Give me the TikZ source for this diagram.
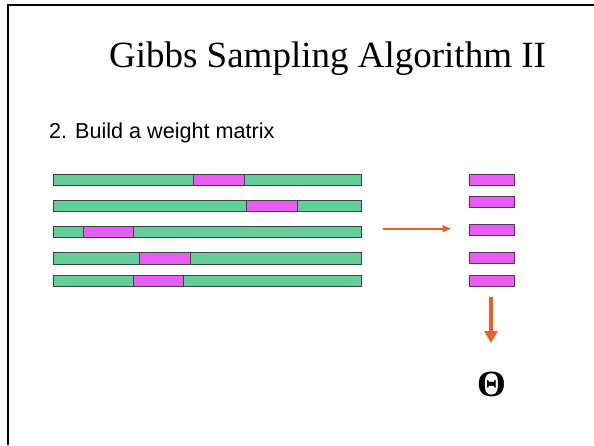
\documentclass[tikz,border=0pt]{standalone}
\usepackage{fontspec}
\usetikzlibrary{arrows.meta}
\setmainfont{Liberation Serif}
\newfontfamily\arialfont{Liberation Sans}
\definecolor{bargreen}{RGB}{100,205,152}
\definecolor{barmag}{RGB}{233,92,245}
\definecolor{arroworange}{RGB}{236,96,40}
\definecolor{bargray}{RGB}{60,70,65}
\definecolor{boxpurple}{RGB}{90,50,100}
\begin{document}
\begin{tikzpicture}[x=1pt,y=-1pt,
  seq/.style={draw=bargray,fill=bargreen,line width=0.9pt,minimum width=308.4pt,minimum height=11.4pt,inner sep=0pt,outer sep=0pt},
  motif/.style={draw=bargray,fill=barmag,line width=0.9pt,minimum width=50.5pt,minimum height=11.4pt,inner sep=0pt,outer sep=0pt},
  wbox/.style={draw=boxpurple,fill=barmag,line width=0.9pt,minimum width=45.4pt,minimum height=11.4pt,inner sep=0pt,outer sep=0pt},
  thinarrow/.style={draw=arroworange,line width=1.6pt,-{Triangle[length=8.5pt,width=7pt]}},
  thickarrow/.style={draw=arroworange,line width=4pt,-{Triangle[length=12pt,width=13pt]}}
]
\useasboundingbox (0,0) rectangle (594,445);
\fill[white] (0,0) rectangle (594,445);
% slide frame (cropped)
\draw[line width=2pt] (8,445) -- (8,5) -- (594,5);

% title and subtitle
\node[anchor=base,inner sep=0pt,font=\fontsize{37}{40}\selectfont] (title) at (327.5,67.3) {Gibbs Sampling Algorithm II};
\node[anchor=base west,inner sep=0pt,font=\arialfont\fontsize{21.6}{24}\selectfont] (step2) at (49,138) {2. Build a weight matrix};

% sequences
\node[seq] (s1) at (207.5,180) {};
\node[seq] (s2) at (207.5,205.8) {};
\node[seq] (s3) at (207.5,231.8) {};
\node[seq] (s4) at (207.5,258.3) {};
\node[seq] (s5) at (207.5,280.8) {};
% motifs
\node[motif] (m1) at (218.7,180) {};
\node[motif] (m2) at (272,205.8) {};
\node[motif] (m3) at (108.3,231.8) {};
\node[motif] (m4) at (165,258.3) {};
\node[motif] (m5) at (158.3,280.8) {};

% aligned motifs
\node[wbox] (w1) at (492,179.7) {};
\node[wbox] (w2) at (492,201.8) {};
\node[wbox] (w3) at (492,230) {};
\node[wbox] (w4) at (492,258.2) {};
\node[wbox] (w5) at (492,280.8) {};

% theta
\node[anchor=base,inner sep=0pt,font=\bfseries\fontsize{37}{40}\selectfont] (theta) at (492,396.5) {Θ};

% arrows
\coordinate (hstart) at (382.7,228.7);
\coordinate (hend) at (451,228.7);
\draw[thinarrow] (hstart) -- (hend);
\coordinate (vstart) at (491,297.3);
\coordinate (vend) at (491,343);
\draw[thickarrow] (vstart) -- (vend);
\end{tikzpicture}
\end{document}
